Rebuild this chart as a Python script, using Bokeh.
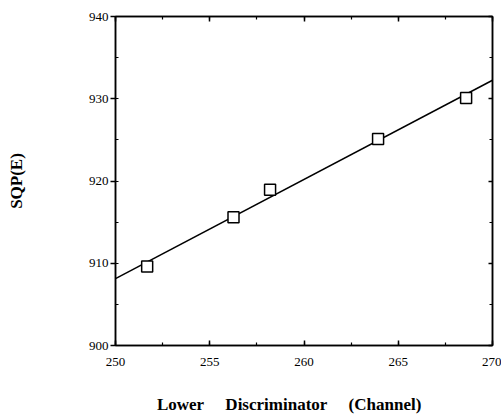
import numpy as np
from bokeh.plotting import figure
from bokeh.models import LinearAxis, SingleIntervalTicker, Range1d
from bokeh.embed import file_html
from bokeh.resources import INLINE

# data
channel = [251.68, 256.26, 258.2, 263.93, 268.6]
sqp_e = [909.6, 915.6, 918.95, 925.1, 930.1]
x_limits = [250, 270]
y_limits = [900, 940]

slope, intercept = np.polyfit(channel, sqp_e, 1)
fit_x = np.array(x_limits, dtype=float)
fit_y = slope * fit_x + intercept

FONT = "Liberation Serif"
NBSP = "\u00a0"

p = figure(width=501, height=416, output_backend="svg", toolbar_location=None,
           x_range=Range1d(*x_limits), y_range=Range1d(*y_limits),
           x_axis_location=None, y_axis_location=None,
           min_border_left=115, min_border_right=9, min_border_top=16, min_border_bottom=69)
p.grid.visible = False
p.outline_line_color = "black"
p.outline_line_width = 1.5
p.background_fill_color = "white"
p.border_fill_color = "white"

def make_axis(interval, labels=True):
    ax = LinearAxis(ticker=SingleIntervalTicker(interval=interval, num_minor_ticks=2))
    ax.axis_line_color = "black"
    ax.axis_line_width = 1.5
    ax.major_tick_line_width = 1.5
    ax.minor_tick_line_width = 1.2
    ax.major_label_text_font = FONT
    ax.major_label_text_font_size = "13px"
    ax.major_label_text_color = "black"
    ax.axis_label_text_font = FONT
    ax.axis_label_text_font_style = "bold"
    ax.axis_label_text_font_size = "17px"
    ax.axis_label_text_color = "black"
    if not labels:
        ax.major_label_text_font_size = "1px"
        ax.major_label_text_color = None
        ax.major_label_standoff = 0
    return ax

bottom = make_axis(5)
bottom.major_tick_in = 5
bottom.major_tick_out = 0
bottom.minor_tick_in = 3
bottom.minor_tick_out = 0
bottom.major_label_standoff = 12
bottom.axis_label = ("Lower" + NBSP * 5 + "Discriminator" + NBSP * 5 + "(Channel)"
                     + NBSP * 7)
bottom.axis_label_standoff = 26
p.add_layout(bottom, "below")

left = make_axis(10)
left.major_tick_in = 0
left.major_tick_out = 5
left.minor_tick_in = 3
left.minor_tick_out = 0
left.major_label_standoff = 2
left.axis_label = "SQP(E)"
left.axis_label_standoff = 60
p.add_layout(left, "left")

top = make_axis(5, labels=False)
top.major_tick_in = 5
top.major_tick_out = 0
top.minor_tick_in = 3
top.minor_tick_out = 0
p.add_layout(top, "above")

right = make_axis(10, labels=False)
right.major_tick_in = 4
right.major_tick_out = 0
right.minor_tick_in = 3
right.minor_tick_out = 0
p.add_layout(right, "right")

p.line(fit_x, fit_y, line_color="black", line_width=1.5)
p.scatter(channel, sqp_e, marker="square", size=11, fill_color="white",
          line_color="black", line_width=1.5)

open("out.html", "w").write(file_html(p, INLINE))
